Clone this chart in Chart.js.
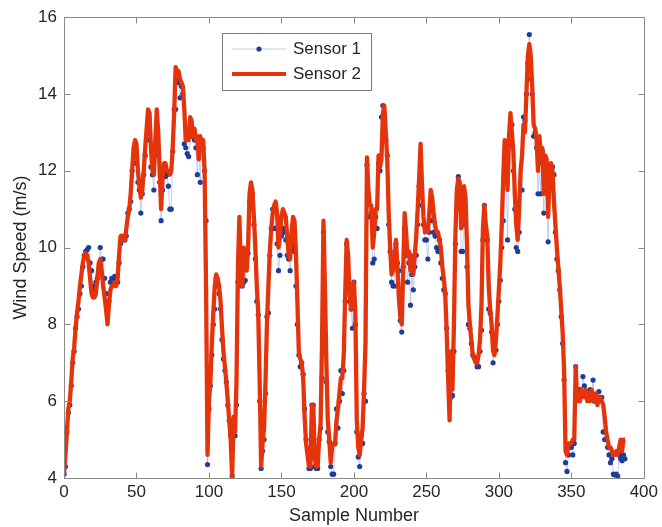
<!DOCTYPE html>
<html>
<head>
<meta charset="utf-8">
<script src="https://cdn.jsdelivr.net/npm/chart.js@4.4.1/dist/chart.umd.min.js"></script>
<style>
  body { margin: 0; background: #ffffff; }
  #wind { display: block; }
</style>
</head>
<body>
<canvas id="wind" width="662" height="527"></canvas>
<script>
// wind speed readings (m/s), one per sample, starting at sample 0
const sensor1 = [
  4.1, 4.3, 5.2, 5.7, 5.9, 6.4, 7.0, 7.3, 7.9, 8.2,
  8.4, 8.8, 9.0, 9.5, 9.8, 9.9, 9.95, 10.0, 9.6, 9.4,
  8.9, 9.0, 9.1, 9.2, 9.4, 10.0, 9.7, 9.7, 9.2, 8.8,
  8.2, 8.6, 9.1, 9.2, 9.2, 9.25, 9.1, 9.1, 9.6, 10.1,
  10.3, 10.2, 10.2, 10.3, 10.9, 11.0, 11.2, 12.0, 12.2, 12.5,
  12.2, 11.7, 11.5, 10.9, 11.4, 11.9, 12.4, 12.8, 13.2, 12.8,
  12.1, 11.9, 11.5, 12.4, 13.0, 12.5, 11.7, 10.7, 11.5, 12.0,
  11.85, 11.9, 11.6, 11.0, 11.0, 12.5, 13.6, 13.6, 14.4, 14.3,
  13.9, 14.2, 14.0, 12.7, 12.6, 12.45, 12.37, 12.9, 13.0, 12.9,
  12.8, 12.6, 11.9, 12.8, 11.7, 12.7, 12.6, 12.0, 10.7, 4.35,
  5.8, 6.4, 7.2, 8.0, 8.4, 9.2, 9.0, 8.8, 8.4, 7.6,
  7.1, 6.8, 6.5, 5.9, 5.5, 5.1, 4.05, 5.5, 5.1, 5.9,
  9.1, 9.0, 9.05, 9.0, 9.1, 9.15, 9.5, 9.85, 11.2, 11.0,
  11.4, 10.6, 9.7, 8.6, 8.25, 6.0, 4.25, 4.7, 5.0, 6.2,
  8.2, 8.3, 9.8, 10.5, 11.0, 10.5, 10.5, 10.1, 9.4, 9.8,
  10.3, 10.5, 10.4, 10.2, 9.8, 9.7, 9.4, 10.0, 10.1, 9.9,
  9.0, 8.0, 7.2, 6.9, 7.0, 6.7, 5.8, 5.0, 4.7, 4.25,
  4.25, 5.9, 5.9, 4.3, 4.25, 4.25, 5.0, 5.3, 6.6, 10.4,
  7.3, 6.5, 5.2, 4.95, 4.3, 4.1, 4.1, 4.9, 5.8, 5.3,
  6.0, 6.8, 6.2, 6.8, 8.6, 10.1, 9.1, 8.6, 8.4, 7.9,
  9.1, 8.0, 5.2, 4.55, 4.3, 5.1, 4.9, 6.2, 6.0, 12.15,
  11.2, 10.8, 10.9, 9.6, 9.7, 10.8, 10.5, 12.2, 12.0, 13.4,
  13.7, 13.2, 12.8, 12.4, 10.6, 9.9, 9.1, 9.0, 9.0, 10.1,
  9.6, 9.4, 8.1, 7.8, 9.5, 10.5, 9.8, 9.1, 9.6, 8.5,
  9.3, 8.9, 9.5, 9.8, 10.6, 11.6, 12.0, 11.1, 10.6, 10.2,
  10.2, 9.7, 10.4, 11.0, 10.7, 10.4, 10.3, 10.0, 9.9, 10.2,
  9.6, 9.2, 8.9, 8.8, 7.9, 6.8, 6.0, 6.1, 6.15, 7.3,
  10.1, 11.0, 11.85, 11.6, 9.9, 9.9, 10.6, 10.8, 9.5, 8.0,
  7.9, 7.5, 7.2, 7.15, 7.1, 6.9, 6.9, 7.3, 7.85, 10.2,
  11.1, 10.4, 10.2, 8.4, 8.3, 7.8, 7.0, 7.3, 7.33, 8.0,
  8.6, 9.15, 10.0, 10.7, 12.1, 12.0, 10.2, 12.8, 12.9, 13.2,
  12.0, 11.0, 10.0, 9.9, 10.4, 11.5, 11.5, 13.4, 13.3, 14.0,
  14.8, 15.55, 14.4, 14.0, 12.9, 13.0, 12.6, 11.4, 12.2, 11.4,
  12.5, 10.9, 12.3, 11.8, 10.15, 11.6, 11.7, 12.1, 11.9, 10.4,
  9.7, 9.4, 8.9, 8.2, 7.5, 6.55, 4.4, 4.17, 4.6, 4.8,
  4.8, 4.6, 4.9, 6.9, 6.3, 6.2, 6.3, 6.2, 6.64, 6.4,
  6.2, 6.1, 6.1, 6.3, 6.2, 6.55, 6.0, 6.05, 6.1, 6.25,
  6.1, 6.1, 5.2, 5.0, 5.0, 4.8, 4.6, 4.4, 4.5, 4.1,
  4.08, 4.1, 4.05, 4.6, 4.5, 4.45, 4.6, 4.5
];

const sensor2 = [
  4.1, 4.6, 5.2, 5.8, 6.0, 6.5, 7.1, 7.4, 7.9, 8.3,
  8.6, 9.0, 9.3, 9.6, 9.8, 9.85, 9.8, 9.6, 9.2, 8.8,
  8.7, 8.7, 8.8, 9.2, 9.6, 9.7, 9.4, 9.0, 8.7, 8.4,
  8.0, 8.5, 8.9, 9.0, 9.0, 9.1, 9.0, 9.2, 9.8, 10.3,
  10.3, 10.2, 10.2, 10.5, 10.8, 11.0, 11.4, 12.0, 12.6, 12.8,
  12.7, 12.0, 11.6, 11.3, 11.5, 12.0, 12.6, 13.1, 13.6, 13.5,
  12.6, 12.0, 11.9, 12.8, 13.6, 13.0, 12.0, 11.0, 11.8, 12.2,
  12.2, 12.0, 12.0, 11.9, 12.0, 12.6, 13.5, 14.7, 14.6, 14.6,
  14.4, 14.3, 14.2, 13.6, 12.8, 12.8, 12.8, 13.4, 13.3, 12.9,
  13.1, 12.8, 12.9, 12.3, 12.9, 12.7, 12.8, 12.0, 9.0, 4.6,
  6.0, 6.5, 7.5, 8.3, 9.0, 9.3, 9.2, 9.0, 8.6, 7.9,
  7.3, 6.9, 6.5, 6.0, 5.5, 5.0, 4.0, 5.6, 5.2, 6.5,
  9.5, 10.8, 9.4, 9.0, 10.0, 9.6, 9.4, 10.0, 11.4, 11.7,
  11.5, 10.8, 10.0, 9.0, 8.3, 6.5, 4.3, 4.9, 5.3, 6.5,
  8.0, 9.0, 9.9, 10.5, 10.9, 11.1, 11.2, 10.9, 10.0, 10.3,
  10.8, 11.0, 10.9, 10.8, 10.3, 9.8, 9.7, 10.4, 10.8, 10.7,
  9.9, 8.6, 7.3, 7.1, 7.0, 6.6, 5.6, 4.9, 4.6, 4.3,
  4.3, 5.9, 5.9, 4.5, 4.3, 4.3, 5.0, 5.4, 7.5, 10.7,
  9.0, 7.0, 5.5, 5.0, 4.4, 4.8, 4.9, 4.9, 5.5, 5.8,
  6.2, 6.6, 6.6, 7.2, 8.8, 10.2, 9.8, 8.8, 8.4, 8.8,
  9.1, 8.3, 5.5, 4.8, 4.6, 5.0, 5.3, 6.3, 7.5, 12.35,
  11.5, 11.1, 11.1, 10.0, 10.4, 11.0, 11.0, 12.4, 12.1, 12.3,
  13.5, 13.7, 13.0, 12.3, 10.9, 10.0, 9.3, 9.4, 9.7, 10.2,
  9.5, 8.7, 8.2, 8.0, 9.4, 10.9, 10.4, 9.8, 9.9, 9.4,
  9.8, 9.3, 9.8, 10.3, 11.0, 11.8, 12.7, 11.6, 10.8, 10.4,
  10.5, 10.4, 10.9, 11.5, 11.3, 10.9, 10.6, 10.4, 10.4, 10.2,
  10.0, 9.5, 9.2, 8.8, 7.8, 6.6, 5.5, 7.3, 6.3, 8.0,
  10.3, 11.5, 11.8, 11.7, 10.5, 10.7, 11.6, 11.3, 10.1, 8.5,
  8.0, 7.6, 7.2, 7.1, 7.0, 7.0, 7.2, 7.6, 8.5, 10.5,
  11.1, 10.6, 10.3, 9.0, 8.4, 8.0, 7.3, 7.2, 7.6, 8.2,
  8.9, 9.6, 10.6, 11.8, 12.8, 12.6, 11.5, 12.9, 13.5, 13.0,
  12.5, 11.4, 10.6, 10.2, 11.0, 12.0, 12.4, 13.2, 13.0, 14.0,
  15.0, 15.3, 15.0, 14.2, 13.2, 13.1, 12.8, 12.0, 12.9, 12.3,
  12.6, 11.4, 12.4, 12.3, 10.8, 11.9, 12.2, 12.0, 11.2, 10.6,
  10.0, 9.5, 9.0, 8.4, 7.8, 6.8, 4.7, 4.6, 4.9, 4.9,
  4.9, 5.0, 5.0, 6.9, 6.0, 6.2, 6.0, 6.3, 6.2, 6.1,
  6.3, 6.0, 6.2, 6.0, 6.3, 6.1, 6.0, 6.2, 5.9, 6.1,
  6.1, 6.0, 5.9, 5.6, 5.2, 5.0, 4.8, 4.8, 4.7, 4.6,
  4.6, 4.7, 4.6, 4.8, 5.0, 4.7, 5.0, 5.0
];

const xTicks = [0, 50, 100, 150, 200, 250, 300, 350, 400];
const yTicks = [4, 6, 8, 10, 12, 14, 16];
const seriesNames = ["Sensor 1", "Sensor 2"];

const FONT = "Helvetica, 'Liberation Sans', Arial, sans-serif";
const AXIS_GRAY = "#8a8a8a";
const TEXT_COLOR = "#262626";
const BLUE_DOT = "#1e3c9a";
const BLUE_LINE = "rgba(140,165,230,0.55)";
const RED = "#e5330c";

const pts1 = sensor1.map((v, i) => ({ x: i, y: v }));
const pts2 = sensor2.map((v, i) => ({ x: i, y: v }));

// matlab style box with inward ticks + legend inside the axes
const matlabBox = {
  id: "matlabBox",
  afterDraw(chart) {
    const { ctx, chartArea: a, scales } = chart;
    const x = scales.x, y = scales.y;
    ctx.save();
    ctx.strokeStyle = AXIS_GRAY;
    ctx.lineWidth = 1;
    const L = Math.round(a.left) + 0.5, R = Math.round(a.right) + 0.5;
    const T = Math.round(a.top) + 0.5, B = Math.round(a.bottom) + 0.5;
    ctx.strokeRect(L, T, R - L, B - T);
    const tl = 6;
    ctx.beginPath();
    xTicks.forEach((t) => {
      const px = Math.round(x.getPixelForValue(t)) + 0.5;
      ctx.moveTo(px, B); ctx.lineTo(px, B - tl);
      ctx.moveTo(px, T); ctx.lineTo(px, T + tl);
    });
    yTicks.forEach((t) => {
      const py = Math.round(y.getPixelForValue(t)) + 0.5;
      ctx.moveTo(L, py); ctx.lineTo(L + tl, py);
      ctx.moveTo(R, py); ctx.lineTo(R - tl, py);
    });
    ctx.stroke();

    // legend
    const lx = 222, ly = 33, lw = 149, lh = 57;
    ctx.fillStyle = "#ffffff";
    ctx.fillRect(lx, ly, lw, lh);
    ctx.strokeStyle = "#7a7a7a";
    ctx.strokeRect(lx + 0.5, ly + 0.5, lw, lh);
    const r1 = ly + 16, r2 = ly + 41;
    ctx.strokeStyle = BLUE_LINE;
    ctx.lineWidth = 1;
    ctx.beginPath(); ctx.moveTo(232, r1); ctx.lineTo(286, r1); ctx.stroke();
    ctx.fillStyle = BLUE_DOT;
    ctx.beginPath(); ctx.arc(259, r1, 2.6, 0, Math.PI * 2); ctx.fill();
    ctx.strokeStyle = RED;
    ctx.lineWidth = 4;
    ctx.beginPath(); ctx.moveTo(232, r2); ctx.lineTo(286, r2); ctx.stroke();
    ctx.fillStyle = TEXT_COLOR;
    ctx.font = "17px " + FONT;
    ctx.textBaseline = "middle";
    ctx.textAlign = "left";
    ctx.fillText(seriesNames[0], 293, r1);
    ctx.fillText(seriesNames[1], 293, r2);
    ctx.restore();
  },
};

new Chart(document.getElementById("wind"), {
  type: "line",
  data: {
    datasets: [
      {
        label: seriesNames[0],
        data: pts1,
        borderColor: BLUE_LINE,
        borderWidth: 1,
        pointRadius: 2.6,
        pointBorderWidth: 0,
        pointBackgroundColor: BLUE_DOT,
        tension: 0,
        order: 2,
      },
      {
        label: seriesNames[1],
        data: pts2,
        borderColor: RED,
        borderWidth: 4.3,
        pointRadius: 0,
        tension: 0,
        borderJoinStyle: "round",
        order: 1,
      },
    ],
  },
  options: {
    responsive: false,
    animation: false,
    layout: { padding: { left: 0, top: 17, right: 17, bottom: 0 } },
    plugins: {
      legend: { display: false },
      tooltip: { enabled: false },
    },
    scales: {
      x: {
        type: "linear",
        min: 0,
        max: 400,
        afterBuildTicks: (s) => { s.ticks = xTicks.map((v) => ({ value: v })); },
        afterFit: (s) => { s.height = 49; },
        grid: { display: false, drawTicks: false },
        border: { display: false },
        ticks: { color: TEXT_COLOR, font: { family: FONT, size: 17 }, padding: 4, maxRotation: 0 },
        title: {
          display: true,
          text: "Sample Number",
          color: TEXT_COLOR,
          font: { family: FONT, size: 18 },
          padding: { top: 0, bottom: 0 },
        },
      },
      y: {
        min: 4,
        max: 16,
        afterBuildTicks: (s) => { s.ticks = yTicks.map((v) => ({ value: v })); },
        afterFit: (s) => { s.width = 64; },
        grid: { display: false, drawTicks: false },
        border: { display: false },
        ticks: { color: TEXT_COLOR, font: { family: FONT, size: 17 }, padding: 7 },
        title: {
          display: true,
          text: "Wind Speed (m/s)",
          color: TEXT_COLOR,
          font: { family: FONT, size: 18 },
          padding: { top: 10, bottom: 0 },
        },
      },
    },
  },
  plugins: [matlabBox],
});
</script>
</body>
</html>
